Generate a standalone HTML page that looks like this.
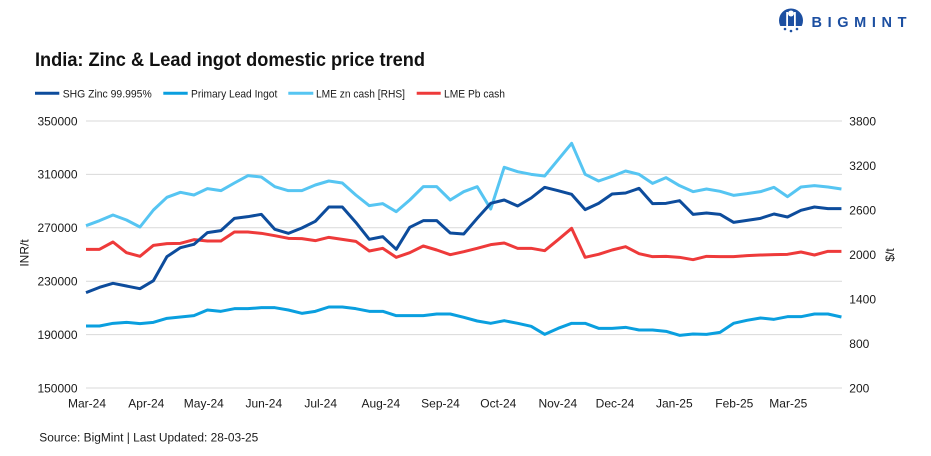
<!DOCTYPE html>
<html>
<head>
<meta charset="utf-8">
<style>
html,body{margin:0;padding:0;background:#fff;}
svg{display:block;}
text{font-family:"Liberation Sans",Arial,sans-serif;fill:#1a1a1a;}
</style>
</head>
<body>
<svg width="931" height="456" viewBox="0 0 931 456" xmlns="http://www.w3.org/2000/svg">
<rect width="931" height="456" fill="#fff"/>

<!-- Logo -->
<g>
  <circle cx="791" cy="20.5" r="12" fill="#1C4FA1"/>
  <circle cx="791" cy="13.5" r="3" fill="#fff"/>
  <rect x="786.2" y="12" width="1.8" height="17" fill="#fff"/>
  <rect x="794" y="12" width="1.8" height="17" fill="#fff"/>
  <path d="M789 18 L793 18 L792 27 L790 27 Z" fill="#1C4FA1"/>
  <rect x="778" y="26" width="26" height="8" fill="#fff"/>
  <circle cx="785" cy="29" r="1.3" fill="#1C4FA1"/>
  <circle cx="791" cy="31" r="1.3" fill="#1C4FA1"/>
  <circle cx="797" cy="29" r="1.3" fill="#1C4FA1"/>
  <text x="811.5" y="26.8" font-size="14.5" font-weight="bold" textLength="95" lengthAdjust="spacing" style="fill:#1C4FA1">BIGMINT</text>
</g>

<!-- Title -->
<text x="35" y="66" font-size="19.5" font-weight="bold" textLength="390" lengthAdjust="spacingAndGlyphs" style="fill:#111">India: Zinc &amp; Lead ingot domestic price trend</text>

<!-- Legend -->
<g stroke-width="3" stroke-linecap="butt">
  <line x1="35" y1="93.3" x2="59.3" y2="93.3" stroke="#0D4C9C"/>
  <line x1="163.3" y1="93.3" x2="187.7" y2="93.3" stroke="#0A9FDF"/>
  <line x1="288.3" y1="93.3" x2="313.3" y2="93.3" stroke="#56C5F2"/>
  <line x1="416.7" y1="93.3" x2="440.7" y2="93.3" stroke="#EE3A3A"/>
</g>
<g font-size="11">
  <text x="62.7" y="97.3" textLength="89" lengthAdjust="spacingAndGlyphs">SHG Zinc 99.995%</text>
  <text x="191" y="97.3" textLength="86.3" lengthAdjust="spacingAndGlyphs">Primary Lead Ingot</text>
  <text x="316" y="97.3" textLength="89" lengthAdjust="spacingAndGlyphs">LME zn cash [RHS]</text>
  <text x="444" y="97.3" textLength="61" lengthAdjust="spacingAndGlyphs">LME Pb cash</text>
</g>

<!-- Gridlines -->
<g stroke="#D9D9D9" stroke-width="1">
  <line x1="86" y1="121" x2="842" y2="121"/>
  <line x1="86" y1="174.4" x2="842" y2="174.4"/>
  <line x1="86" y1="227.8" x2="842" y2="227.8"/>
  <line x1="86" y1="281.2" x2="842" y2="281.2"/>
  <line x1="86" y1="334.6" x2="842" y2="334.6"/>
  <line x1="86" y1="388" x2="842" y2="388"/>
</g>

<!-- Left axis labels -->
<g font-size="12" text-anchor="end">
  <text x="77.5" y="125.3">350000</text>
  <text x="77.5" y="178.7">310000</text>
  <text x="77.5" y="232.1">270000</text>
  <text x="77.5" y="285.5">230000</text>
  <text x="77.5" y="338.9">190000</text>
  <text x="77.5" y="392.3">150000</text>
</g>
<!-- Right axis labels -->
<g font-size="12">
  <text x="849.3" y="125.3">3800</text>
  <text x="849.3" y="169.8">3200</text>
  <text x="849.3" y="214.3">2600</text>
  <text x="849.3" y="258.8">2000</text>
  <text x="849.3" y="303.3">1400</text>
  <text x="849.3" y="347.8">800</text>
  <text x="849.3" y="392.3">200</text>
</g>
<!-- Axis titles -->
<text transform="translate(28.3,253) rotate(-90)" font-size="12" text-anchor="middle">INR/t</text>
<text transform="translate(894,255) rotate(-90)" font-size="12" text-anchor="middle">$/t</text>

<!-- X axis labels -->
<g font-size="12" text-anchor="middle">
  <text x="87" y="407.5">Mar-24</text>
  <text x="146.3" y="407.5">Apr-24</text>
  <text x="203.8" y="407.5">May-24</text>
  <text x="263.8" y="407.5">Jun-24</text>
  <text x="320.7" y="407.5">Jul-24</text>
  <text x="380.8" y="407.5">Aug-24</text>
  <text x="440.5" y="407.5">Sep-24</text>
  <text x="498.3" y="407.5">Oct-24</text>
  <text x="557.8" y="407.5">Nov-24</text>
  <text x="615" y="407.5">Dec-24</text>
  <text x="674.3" y="407.5">Jan-25</text>
  <text x="734.3" y="407.5">Feb-25</text>
  <text x="788.3" y="407.5">Mar-25</text>
</g>

<!-- Series -->
<g transform="translate(86,135) scale(13.49,0.333333)" fill="none" stroke-width="3" stroke-linejoin="round" stroke-linecap="butt">
  <polyline vector-effect="non-scaling-stroke" stroke="#0A9FDF" points="0,573 1,573 2,565 3,562 4,566 5,562 6,550 7,546 8,542 9,525 10,529 11,521 12,521 13,518 14,518 15,525 16,535 17,529 18,516 19,516 20,521 21,529 22,529 23,542 24,542 25,542 26,537 27,537 28,547 29,558 30,565 31,557 32,565 33,574 34,598 35,580 36,565 37,565 38,580 39,580 40,577 41,585 42,585 43,589 44,601 45,597 46,598 47,592 48,565 49,556 50,549 51,553 52,545 53,545 54,537 55,537 56,546"/>
  <polyline vector-effect="non-scaling-stroke" stroke="#56C5F2" points="0,272 1,257 2,240 3,255 4,276 5,225 6,187 7,172 8,180 9,161 10,167 11,144 12,122 13,126 14,155 15,167 16,167 17,150 18,138 19,144 20,180 21,212 22,206 23,230 24,195 25,155 26,155 27,195 28,170 29,155 30,222 31,97 32,110 33,118 34,123 35,74 36,25 37,118 38,138 39,124 40,108 41,118 42,145 43,128 44,152 45,170 46,162 47,169 48,181 49,176 50,170 51,157 52,185 53,156 54,152 55,156 56,162"/>
  <polyline vector-effect="non-scaling-stroke" stroke="#EE3A3A" points="0,343 1,343 2,321 3,353 4,364 5,331 6,326 7,325 8,314 9,318 10,318 11,291 12,291 13,295 14,302 15,310 16,311 17,317 18,307 19,313 20,319 21,348 22,340 23,367 24,353 25,333 26,345 27,359 28,350 29,340 30,329 31,324 32,340 33,340 34,347 35,314 36,280 37,367 38,358 39,345 40,335 41,356 42,365 43,364 44,367 45,374 46,364 47,365 48,365 49,362 50,360 51,359 52,358 53,351 54,360 55,349 56,349"/>
  <polyline vector-effect="non-scaling-stroke" stroke="#0D4C9C" points="0,473 1,457 2,445 3,453 4,461 5,437 6,365 7,338 8,328 9,293 10,287 11,250 12,245 13,238 14,283 15,295 16,279 17,259 18,216 19,216 20,262 21,313 22,305 23,343 24,277 25,257 26,257 27,294 28,297 29,250 30,205 31,195 32,213 33,189 34,157 35,167 36,178 37,224 38,205 39,177 40,174 41,160 42,206 43,205 44,197 45,238 46,234 47,238 48,262 49,256 50,250 51,237 52,246 53,226 54,216 55,221 56,221"/>
</g>

<!-- Source -->
<text x="39.3" y="441.5" font-size="11.5" textLength="219" lengthAdjust="spacingAndGlyphs">Source: BigMint | Last Updated: 28-03-25</text>
</svg>
</body>
</html>
